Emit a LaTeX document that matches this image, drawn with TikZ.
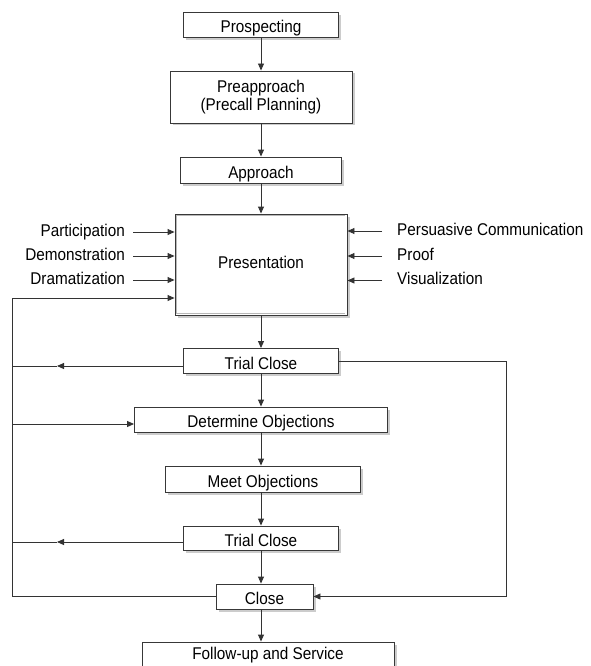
\documentclass[tikz,border=0pt]{standalone}
\usepackage{fontspec}
\setmainfont[FakeStretch=0.9]{Liberation Sans}
\usetikzlibrary{arrows.meta,shadows}
\begin{document}
\begin{tikzpicture}[x=1pt,y=-1pt,
  font=\fontsize{17}{18.5}\selectfont,
  box/.style={draw=black!78, fill=white, line width=0.9pt, inner sep=0pt,
    align=center,
    drop shadow={shadow xshift=2.5pt, shadow yshift=-2.5pt, fill=black!20, opacity=1}},
  oneline/.style={text height=16pt, text depth=0pt},
  link/.style={draw=black!80, line width=0.9pt},
  arr/.style={link, -{Triangle[length=7pt,width=6pt]}},
  lbl/.style={inner sep=0pt, text height=12pt, text depth=4pt}]
\useasboundingbox (0,0) rectangle (591,666);
\clip (0,0) rectangle (591,666);

% main sequence of steps
\node[box, oneline, minimum width=155pt, minimum height=25pt] (prosp) at (261,25) {Prospecting};
\node[box, minimum width=182pt, minimum height=52pt] (preap) at (261,97) {Preapproach\\(Precall Planning)};
\node[box, oneline, minimum width=161pt, minimum height=26pt] (appr) at (261,170) {Approach};
\node[box, minimum width=172pt, minimum height=101pt, text height=12pt, text depth=5pt] (pres) at (261,264.5) {Presentation};
\node[box, oneline, minimum width=155pt, minimum height=25pt] (tc1) at (261,361) {Trial Close};
\node[box, oneline, minimum width=253pt, minimum height=25pt] (det) at (261,419.5) {Determine Objections};
\node[box, oneline, minimum width=195pt, minimum height=26pt] (meet) at (263,479) {Meet Objections};
\node[box, oneline, minimum width=155pt, minimum height=24pt] (tc2) at (261,538) {Trial Close};
\node[box, oneline, minimum width=97pt, minimum height=25pt] (close) at (264.5,596.5) {Close};
\node[box, minimum width=252pt, minimum height=30pt, text height=12pt, text depth=7pt] (follow) at (268,657) {Follow-up and Service};

% inner edge of the presentation box
\draw[black!28, line width=0.8pt]
  ([shift={(-2pt,-2pt)}]pres.north east) -- ([shift={(2pt,-2pt)}]pres.north west)
  -- ([shift={(2pt,2pt)}]pres.south west) -- ([shift={(-2pt,2pt)}]pres.south east);

% spine arrows
\draw[arr] (prosp.south) -- (preap.north);
\draw[arr] (preap.south) -- (appr.north);
\draw[arr] (appr.south) -- (pres.north);
\draw[arr] (pres.south) -- (tc1.north);
\draw[arr] (tc1.south) -- (det.north);
\draw[arr] (det.south) -- (det.south |- meet.north);
\draw[arr] (det.south |- meet.south) -- (tc2.north);
\draw[arr] (tc2.south) -- (tc2.south |- close.north);
\draw[arr] (tc2.south |- close.south) -- (tc2.south |- follow.north);

% presentation methods, left
\node[lbl, anchor=east] (part) at (125,232) {Participation};
\node[lbl, anchor=east] (demo) at (125,256) {Demonstration};
\node[lbl, anchor=east] (dram) at (125,280) {Dramatization};
\foreach \n in {part,demo,dram}
  \draw[arr] ([xshift=8pt]\n.east) -- (\n -| pres.west);

% presentation methods, right
\node[lbl, anchor=west] (pers) at (397,231) {Persuasive Communication};
\node[lbl, anchor=west] (proof) at (397,256) {Proof};
\node[lbl, anchor=west] (visu) at (397,280.5) {Visualization};
\foreach \n in {pers,proof,visu}
  \draw[arr] ([xshift=-15pt]\n.west) -- (\n -| pres.east);

% feedback loops
\coordinate (fb) at (12,298);
\coordinate (m1) at (57,366);
\coordinate (m2) at (57,542);
\coordinate (d1) at (12,424);
\coordinate (rr) at (506,0);

\draw[arr] (close.west) -| (fb) -- (fb -| pres.west);
\draw[arr] (m1 -| tc1.west) -- (m1);
\draw[link] (m1) -- (m1 -| fb);
\draw[arr] (m2 -| tc2.west) -- (m2);
\draw[link] (m2) -- (m2 -| fb);
\draw[arr] (d1) -- (d1 -| det.west);
\draw[arr] (tc1.east) -| (rr |- close.east) -- (close.east);
\end{tikzpicture}
\end{document}
